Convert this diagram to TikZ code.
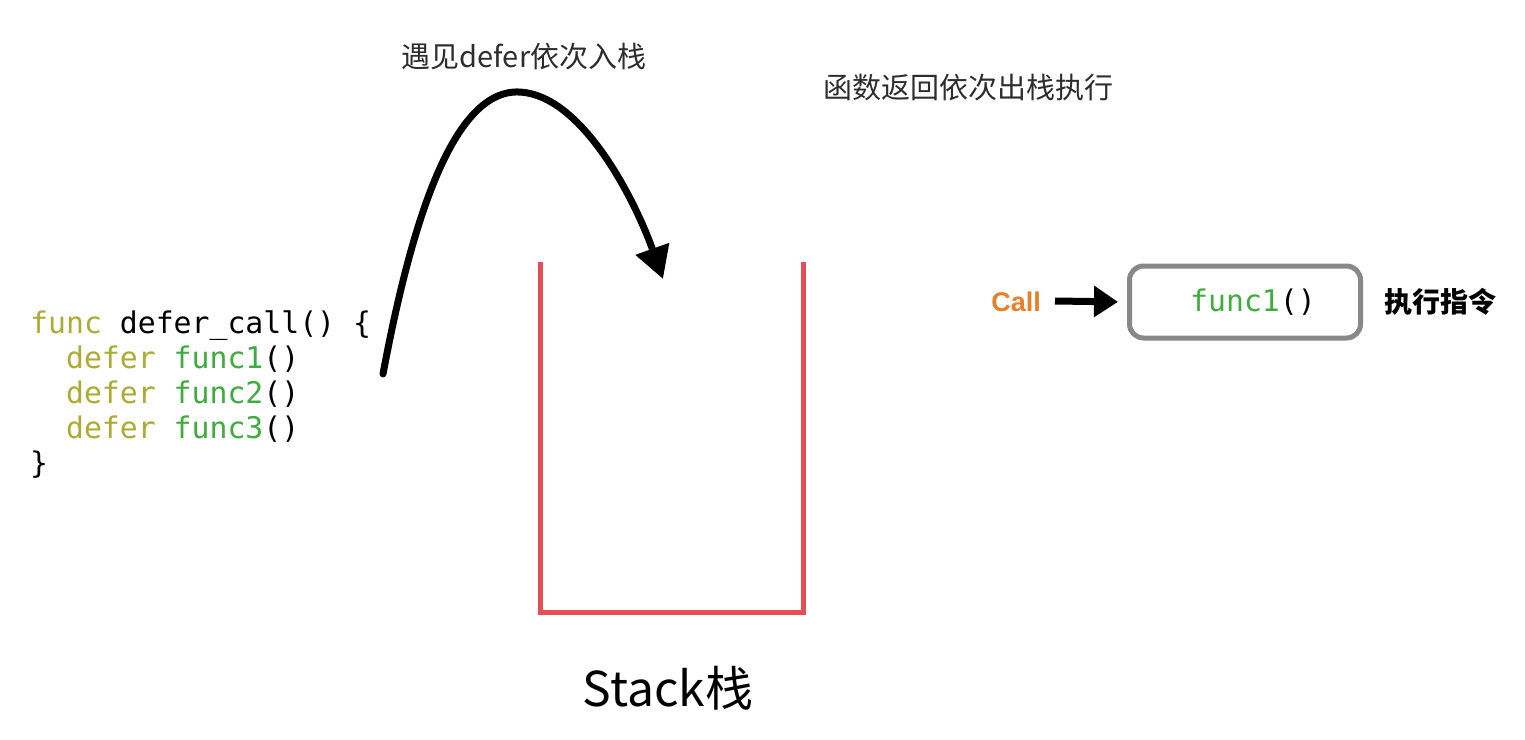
\documentclass[tikz,border=0pt]{standalone}
\usepackage{fontspec}
\setmonofont{DejaVu Sans Mono}
\newfontfamily\cjk{Noto Sans CJK SC}
\newfontfamily\lsans{Liberation Sans}
\usetikzlibrary{arrows.meta}
\definecolor{kw}{RGB}{172,172,52}
\definecolor{fn}{RGB}{62,172,62}
\definecolor{stackred}{RGB}{228,78,84}
\definecolor{boxgray}{RGB}{135,135,140}
\definecolor{callorange}{RGB}{232,128,42}
\definecolor{lbl}{RGB}{45,45,45}
\tikzset{
  codeline/.style={anchor=base west, inner sep=0pt, font=\fontsize{29.8}{35}\selectfont\ttfamily},
  cnlabel/.style={inner sep=0pt, text=lbl, font=\fontsize{29}{34}\selectfont\cjk},
  bigarrow/.style={line width=7pt, line cap=round, -{Triangle[length=32pt,width=34pt]}},
  smallarrow/.style={line width=7pt, -{Triangle[length=24pt,width=30pt]}},
  stackline/.style={stackred, line width=5pt, line join=miter},
  execbox/.style={draw=boxgray, line width=5pt, rounded corners=14pt, minimum width=231pt, minimum height=72pt, inner sep=0pt, font=\fontsize{29.8}{35}\selectfont\ttfamily}
}
\begin{document}
\begin{tikzpicture}[x=1pt,y=-1pt]
\useasboundingbox[fill=white] (0,0) rectangle (1525,739);

% code
\node[codeline] (l1) at (30,333) {\textcolor{kw}{func} defer\char`\_call() \{};
\node[codeline] (l2) at (30,368) {\phantom{xx}\textcolor{kw}{defer} \textcolor{fn}{func1}()};
\node[codeline] (l3) at (30,403) {\phantom{xx}\textcolor{kw}{defer} \textcolor{fn}{func2}()};
\node[codeline] (l4) at (30,438) {\phantom{xx}\textcolor{kw}{defer} \textcolor{fn}{func3}()};
\node[codeline] (l5) at (30,473) {\}};

% push arrow
\coordinate (pushstart) at (383,374);
\coordinate (pushtop) at (515,92);
\coordinate (pushend) at (663,279);
\draw[bigarrow] (pushstart) .. controls (410,230) and (450,95) .. (pushtop)
  .. controls (580,90) and (635,200) .. (pushend);

% labels
\node[cnlabel] (pushlabel) at (524,57) {遇见defer依次入栈};
\node[cnlabel] (poplabel) at (968,88) {函数返回依次出栈执行};

% stack
\coordinate (stl) at (540,262);
\coordinate (sbl) at (540,612);
\coordinate (sbr) at (803,612);
\coordinate (str) at (803,262);
\draw[stackline] (stl) -- (sbl) -- (sbr) -- (str);
\node[inner sep=0pt, font=\fontsize{48}{56}\selectfont\cjk] (stacklabel) at (668,688) {Stack栈};

% execution
\node[execbox] (box) at (1245,302) {\hspace*{16pt}\textcolor{fn}{func1}()};
\node[inner sep=0pt, text=callorange, font=\fontsize{27}{32}\selectfont\lsans\bfseries] (call) at (1016,302) {Call};
\draw[smallarrow, shorten >=9pt] (1055,301) -- (box.west);
\node[inner sep=0pt, font=\fontsize{28}{34}\selectfont\cjk\bfseries] (exec) at (1440,302) {执行指令};
\end{tikzpicture}
\end{document}
